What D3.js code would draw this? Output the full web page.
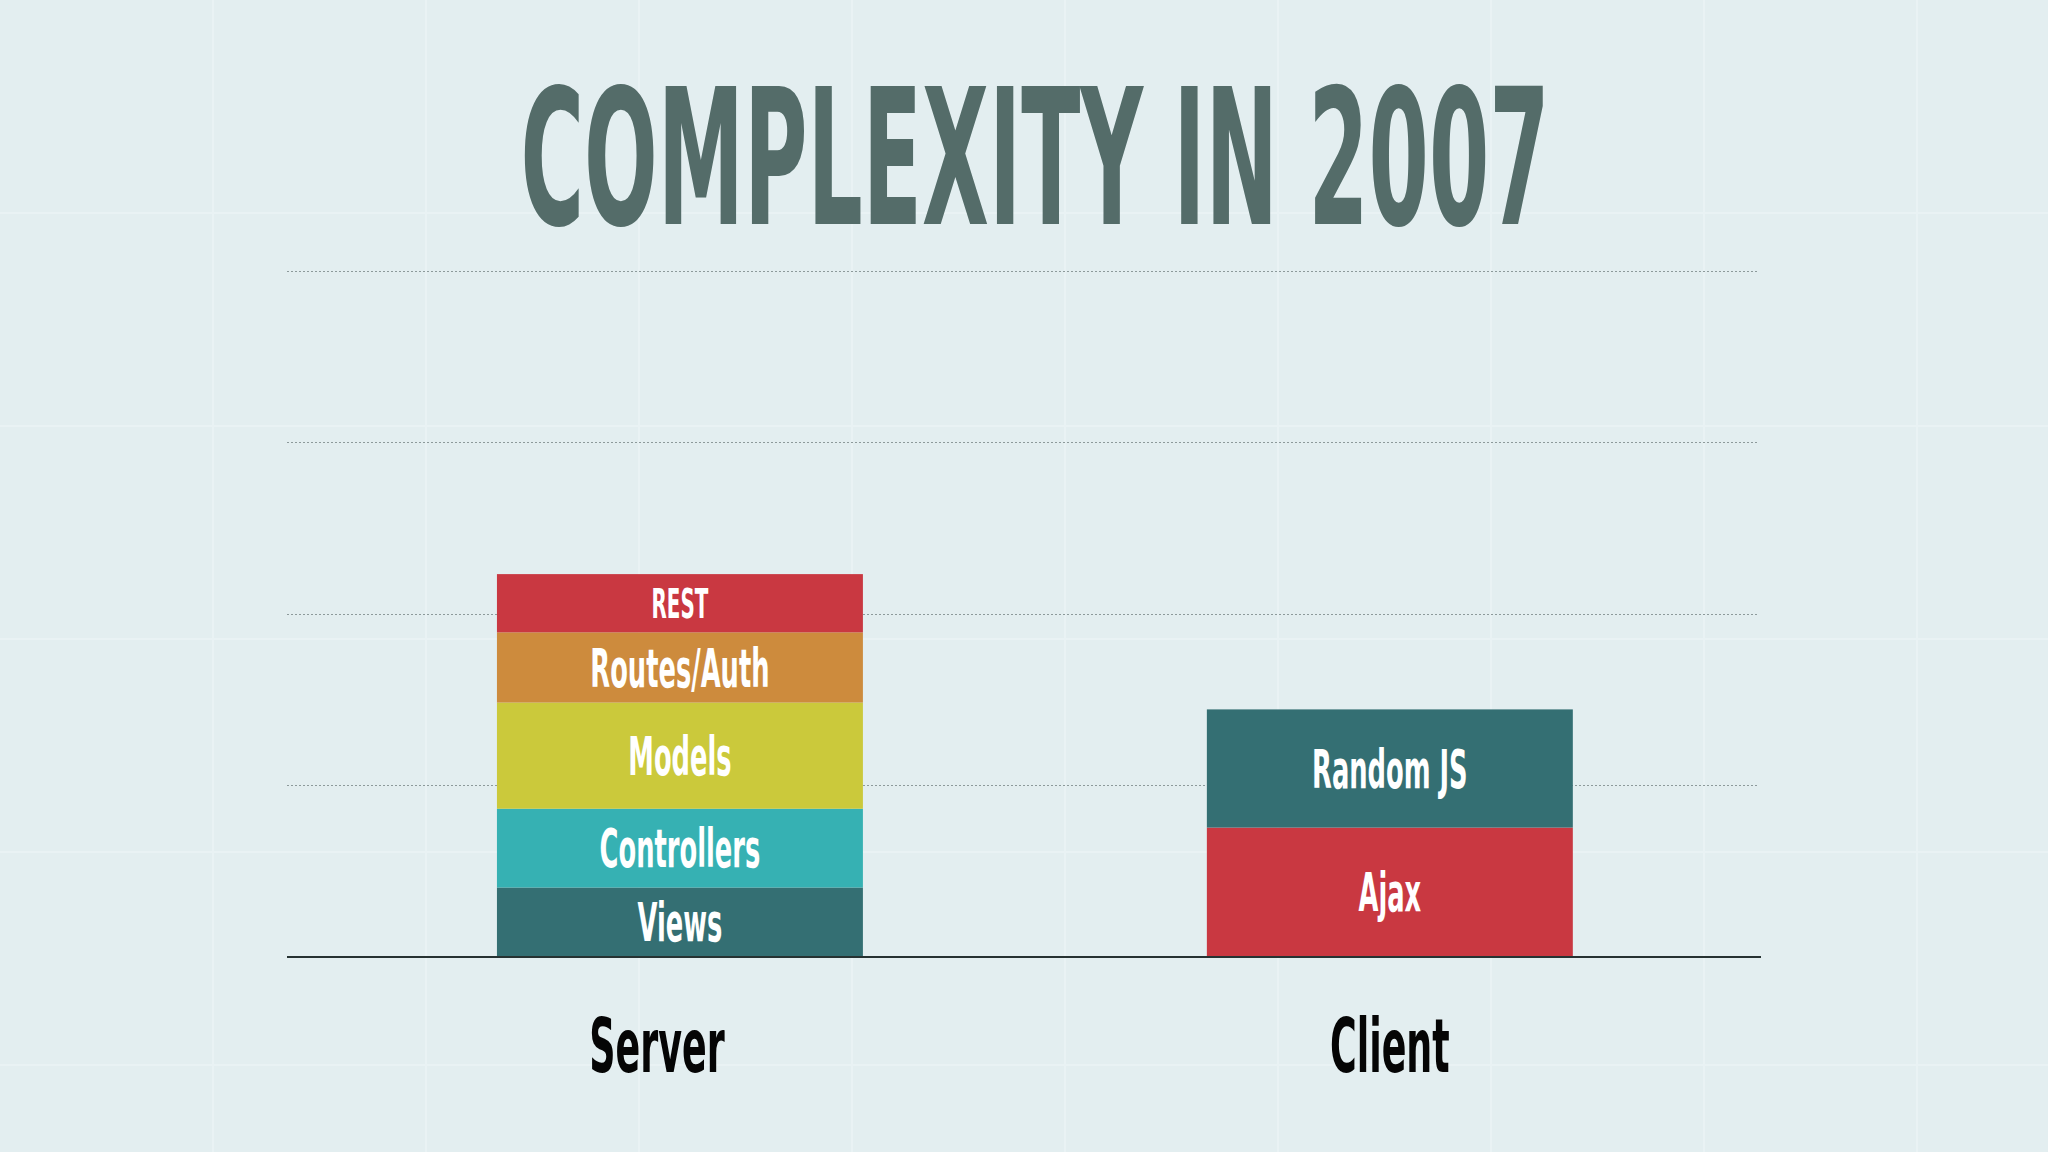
<!DOCTYPE html>
<html>
<head>
<meta charset="utf-8">
<script src="https://cdn.jsdelivr.net/npm/d3@7/dist/d3.min.js"></script>
<style>
  html, body { margin: 0; padding: 0; background: #e3eef0; }
  #d3_container { width: 2048px; height: 1152px; }
  text { font-family: "DejaVu Sans Condensed", "Liberation Sans Narrow", "Roboto", sans-serif; font-weight: bold; }
</style>
</head>
<body>
<div id="d3_container"></div>
<script>

const categories = ["Server", "Client"];
const serverLayers = ["Views", "Controllers", "Models", "Routes/Auth", "REST"];
const serverValues = [0.40, 0.46, 0.62, 0.41, 0.34];
const clientLayers = ["Ajax", "Random JS"];
const clientValues = [0.75, 0.69];
const gridTicks = [1, 2, 3, 4];

const colors = {
    "Views": "#346f73",
    "Controllers": "#36b1b3",
    "Models": "#cbc93b",
    "Routes/Auth": "#cd8b3d",
    "REST": "#c93841",
    "Ajax": "#c93841",
    "Random JS": "#346f73"
};

const width = 2048, height = 1152;
const margin = {top: 271, bottom: 196, left: 287, right: 289};
const squeeze = 0.54;

const svg = d3.select("#d3_container").append("svg")
            .attr("width", width)
            .attr("height", height);

svg.append("rect")
    .attr("width", width)
    .attr("height", height)
    .attr("fill", "#e3eef0");

// faint paper grid behind everything
const paper = svg.append("g").attr("stroke", "#e9f2f4").attr("stroke-width", 2);
paper.selectAll(".pv").data(d3.range(213, width, 213)).enter().append("line")
    .attr("x1", d => d).attr("x2", d => d).attr("y1", 0).attr("y2", height);
paper.selectAll(".ph").data(d3.range(213, height, 213)).enter().append("line")
    .attr("y1", d => d).attr("y2", d => d).attr("x1", 0).attr("x2", width);

svg.append("text")
    .attr("transform", `translate(1035, 224) scale(0.51, 1)`)
    .attr("text-anchor", "middle")
    .attr("fill", "#546c69")
    .style("font-size", "189px")
    .text("COMPLEXITY IN 2007");

const x_scale = d3.scaleBand()
        .domain(categories)
        .range([margin.left, width - margin.right])
        .paddingInner(0.4845)
        .paddingOuter(0.279)
        .align(0.53);

const y_scale = d3.scaleLinear()
        .domain([0, 4])
        .range([height - margin.bottom, margin.top]);

// dotted grid lines
svg.append("g").selectAll("line")
    .data(gridTicks)
    .enter()
    .append("line")
    .attr("x1", margin.left)
    .attr("x2", width - margin.right)
    .attr("y1", d => Math.round(y_scale(d)) + 0.5)
    .attr("y2", d => Math.round(y_scale(d)) + 0.5)
    .attr("stroke", "#8d9a9b")
    .attr("stroke-width", 1.2)
    .attr("stroke-dasharray", "2,2");

function stackOf(layers, values) {
    let base = 0;
    return layers.map((name, i) => {
        const seg = {name: name, y0: base, y1: base + values[i]};
        base += values[i];
        return seg;
    });
}

const stacks = {
    "Server": stackOf(serverLayers, serverValues),
    "Client": stackOf(clientLayers, clientValues)
};

categories.forEach(cat => {
    let g = svg.selectAll(".seg-" + cat)
        .data(stacks[cat])
        .enter()
        .append("g");

    g.append("rect")
        .attr("x", x_scale(cat))
        .attr("y", d => y_scale(d.y1))
        .attr("width", x_scale.bandwidth())
        .attr("height", d => y_scale(d.y0) - y_scale(d.y1))
        .attr("fill", d => colors[d.name]);

    g.append("text")
        .attr("text-anchor", "middle")
        .attr("fill", "#ffffff")
        .style("font-size", d => (y_scale(d.y0) - y_scale(d.y1) < 65 ? 41 : 53) + "px")
        .attr("transform", d => {
            const h = y_scale(d.y0) - y_scale(d.y1);
            const fs = h < 65 ? 41 : 53;
            const cy = (y_scale(d.y0) + y_scale(d.y1)) / 2 + fs * 0.729 / 2;
            return `translate(${x_scale(cat) + x_scale.bandwidth() / 2}, ${cy}) scale(${squeeze}, 1)`;
        })
        .text(d => d.name);
});

// baseline
svg.append("line")
    .attr("x1", margin.left)
    .attr("x2", width - margin.right + 2)
    .attr("y1", y_scale(0) + 1)
    .attr("y2", y_scale(0) + 1)
    .attr("stroke", "#263232")
    .attr("stroke-width", 2);

svg.append("g").selectAll("text")
    .data(categories)
    .enter()
    .append("text")
    .attr("text-anchor", "middle")
    .attr("fill", "#050505")
    .style("font-size", "75px")
    .attr("transform", (d, i) => `translate(${x_scale(d) + x_scale.bandwidth() / 2 - (i === 0 ? 23 : 0)}, 1072) scale(${squeeze}, 1)`)
    .text(d => d);

</script>
</body>
</html>
